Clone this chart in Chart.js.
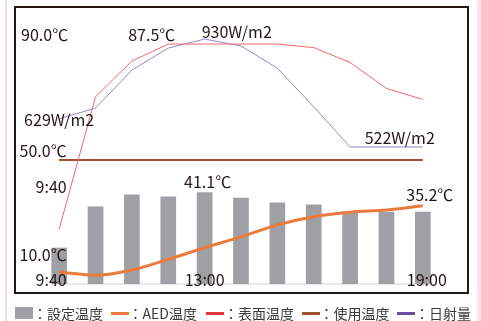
<!DOCTYPE html>
<html lang="ja">
<head>
<meta charset="utf-8">
<script src="https://cdn.jsdelivr.net/npm/chart.js@4"></script>
<style>
  html, body { margin: 0; padding: 0; background: #fff; }
  body { width: 481px; height: 321px; position: relative; overflow: hidden; font-family: "Noto Sans CJK JP", sans-serif; }
  .pink-left { position: absolute; left: 5px; top: 0; width: 2px; height: 321px; background: #f8d9e7; }
  .pink-right { position: absolute; left: 477px; top: 0; width: 4px; height: 321px; background: #fbe2ee; }
  .frame { position: absolute; left: 14px; top: 6px; width: 451px; height: 284px; border: 2px solid #231815; }
  #chart { position: absolute; left: 0; top: 0; }
  #legend { position: absolute; left: 15px; top: 305px; display: flex; }
  .item { width: 95.5px; height: 16px; display: flex; align-items: center; font-size: 14px; color: #3a3a3a; white-space: nowrap; }
  .sw { width: 18px; flex: none; }
</style>
</head>
<body>
<div class="pink-left"></div>
<div class="pink-right"></div>
<div class="frame"></div>
<canvas id="chart" width="481" height="321"></canvas>
<div id="legend"></div>

<script>
// 時刻ラベル（表示するものだけ）
const times = ["9:40", "", "", "", "13:00", "", "", "", "", "", "19:00"];

// 系列データ
const setTemp     = [16.2, 34.7, 40.1, 39.2, 41.1, 38.7, 36.5, 35.6, 32.4, 32.4, 32.4];   // 設定温度 ℃
const aedTemp     = [5.4, 3.9, 6.3, 11.1, 16.3, 21.2, 26.6, 30.3, 32.3, 33.3, 35.2];      // AED温度 ℃
const surfaceTemp = [10.0, 65.4, 80.4, 87.5, 87.5, 87.5, 87.5, 86.0, 79.8, 68.9, 64.3];   // 表面温度 ℃
const useTemp     = [50, 50, 50, 50, 50, 50, 50, 50, 50, 50, 50];                         // 使用温度 ℃
const solar       = [629, 669, 813, 896, 930, 904, 820, 674, 522, 522, 522];              // 日射量 W/m2

const seriesNames  = ["設定温度", "AED温度", "表面温度", "使用温度", "日射量"];
const legendColors = ["#9fa0a3", "#eb7a3d", "#e8333a", "#a0502d", "#6b4c9e"];

// 図中の注記
const annotations = {
  top: "90.0℃", peak: "87.5℃", solarMax: "930W/m2", solarStart: "629W/m2",
  use: "50.0℃", startTime: "9:40", low: "10.0℃", setMax: "41.1℃",
  aedEnd: "35.2℃", solarEnd: "522W/m2"
};

const annotationPlugin = {
  id: "annotations",
  beforeDatasetsDraw(chart) {
    const { ctx, scales } = chart;
    const x = scales.x, y0 = scales.yBar.getPixelForValue(0);
    ctx.save();
    ctx.strokeStyle = "#e2e2e2";
    ctx.lineWidth = 1.5;
    ctx.beginPath();
    ctx.moveTo(x.getPixelForValue(0) - 7.5, y0);
    ctx.lineTo(x.getPixelForValue(times.length - 1) + 7.5, y0);
    ctx.stroke();
    ctx.restore();
  },
  afterDatasetsDraw(chart) {
    const { ctx, scales } = chart;
    const x = scales.x, yBar = scales.yBar, ySurf = scales.ySurf, yUse = scales.yUse, ySun = scales.ySun;
    const px = i => x.getPixelForValue(i);
    const last = times.length - 1;
    ctx.save();
    ctx.font = '16px "Noto Sans CJK JP"';
    ctx.fillStyle = "#231815";
    ctx.textBaseline = "middle";
    const put = (text, tx, ty, align) => { ctx.textAlign = align; ctx.fillText(text, tx, ty); };

    put(annotations.top, px(0) + 9, ySurf.getPixelForValue(90) - 3, "right");
    put(annotations.peak, px(3) + 7, ySurf.getPixelForValue(surfaceTemp[3]) - 9, "right");
    put(annotations.solarMax, px(4) - 3, ySun.getPixelForValue(solar[4]) - 7.5, "left");
    put(annotations.solarStart, px(0), ySun.getPixelForValue(solar[0]) + 1, "center");
    put(annotations.use, px(0) + 7.5, yUse.getPixelForValue(useTemp[0]) - 9, "right");
    put(annotations.startTime, px(0) + 7.5, ySurf.getPixelForValue(surfaceTemp[0]) - 42, "right");
    put(annotations.low, px(0) + 7.5, yBar.getPixelForValue(10) - 7, "right");
    put(annotations.setMax, px(4) + 3, yBar.getPixelForValue(setTemp[4]) - 11, "center");
    put(annotations.aedEnd, px(last) + 7, yBar.getPixelForValue(aedTemp[last]) - 11, "center");
    put(annotations.solarEnd, px(last) + 12, ySun.getPixelForValue(solar[last]) - 9, "right");

    // 時刻（横軸）
    const yt = yBar.getPixelForValue(0) - 4;
    times.forEach((t, i) => {
      if (!t) return;
      if (i === 0) put(t, px(i) + 7.5, yt, "right");
      else if (i === last) put(t, px(i) + 4, yt, "center");
      else put(t, px(i), yt, "center");
    });
    ctx.restore();
  }
};

const chart = new Chart(document.getElementById("chart"), {
  type: "bar",
  data: {
    labels: times,
    datasets: [
      { type: "bar", label: seriesNames[0], data: setTemp, yAxisID: "yBar",
        backgroundColor: "#9fa0a3", barThickness: 15, order: 10 },
      { type: "line", label: seriesNames[1], data: aedTemp, yAxisID: "yBar",
        borderColor: "#eb7a3d", borderWidth: 3, pointRadius: 0, cubicInterpolationMode: "monotone", order: 1 },
      { type: "line", label: seriesNames[2], data: surfaceTemp, yAxisID: "ySurf",
        borderColor: "#f26666", borderWidth: 1, pointRadius: 0, order: 2 },
      { type: "line", label: seriesNames[3], data: useTemp, yAxisID: "yUse",
        borderColor: "#a0502d", borderWidth: 2, pointRadius: 0, order: 3 },
      { type: "line", label: seriesNames[4], data: solar, yAxisID: "ySun",
        borderColor: "#9685cc", borderWidth: 1, pointRadius: 0, order: 4 }
    ]
  },
  options: {
    responsive: false,
    animation: false,
    layout: { padding: { left: 41, right: 40, top: 24, bottom: 37 } },
    plugins: { legend: { display: false }, tooltip: { enabled: false } },
    scales: {
      x: { display: false, offset: true },
      yBar: { display: false, min: 0, max: 117 },
      ySurf: { display: false, min: -13, max: 95.9 },
      yUse: { display: false, min: 0, max: 104.8 },
      ySun: { display: false, min: 4, max: 987 }
    }
  },
  plugins: [annotationPlugin]
});

// 凡例
const legend = document.getElementById("legend");
seriesNames.forEach((name, i) => {
  const item = document.createElement("div");
  item.className = "item";
  const sw = document.createElement("span");
  sw.className = "sw";
  sw.style.background = legendColors[i];
  sw.style.height = chart.data.datasets[i].type === "bar" ? "12px" : "3px";
  const txt = document.createElement("span");
  txt.textContent = "：" + name;
  item.appendChild(sw);
  item.appendChild(txt);
  legend.appendChild(item);
});
</script>
</body>
</html>
